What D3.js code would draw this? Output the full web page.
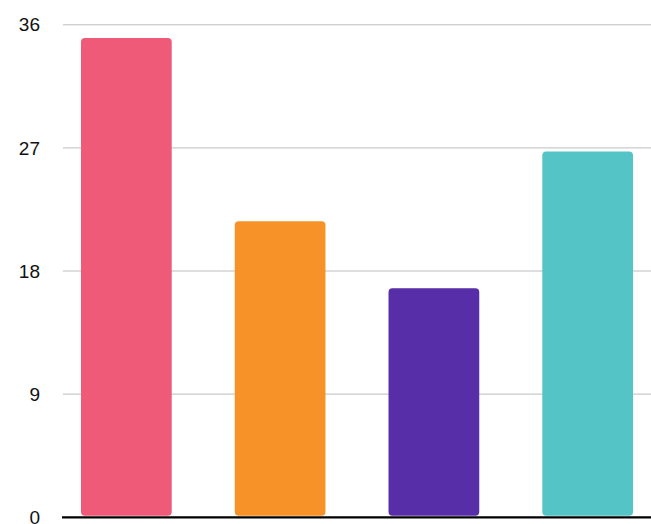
<!DOCTYPE html>
<html>
<head>
<meta charset="utf-8">
<script src="https://cdn.jsdelivr.net/npm/d3@7"></script>
<style>
  html, body { margin: 0; padding: 0; background: #fff; overflow: hidden; }
  svg { display: block; }
  .tick text { font-family: "Liberation Sans", Arial, Helvetica, sans-serif; font-size: 19px; fill: #111; }
</style>
</head>
<body>
<div id="chart"></div>
<script>
// Chart values
const categories = ["A", "B", "C", "D"];
const values = [35, 21.6, 16.7, 26.7];
const colors = ["#ee5a78", "#f69228", "#582da8", "#54c4c6"];
const yTicks = [0, 9, 18, 27, 36];

const width = 651, height = 524;
const margin = {top: 24, right: 0, bottom: 7, left: 63};

const svg = d3.select("#chart")
  .append("svg")
  .attr("width", width)
  .attr("height", height);

const x = d3.scaleBand()
  .domain(categories)
  .range([margin.left, width - margin.right])
  .paddingInner(0.41)
  .paddingOuter(0.117);

const y = d3.scaleLinear()
  .domain([0, 36])
  .range([height - margin.bottom - 0.3, margin.top + 0.3]);

// Gridlines + tick labels
const yAxis = svg.append("g")
  .attr("transform", `translate(${margin.left},0)`)
  .call(d3.axisLeft(y)
    .tickValues(yTicks)
    .tickSize(-(width - margin.left - margin.right))
    .tickPadding(23)
    .tickFormat(d3.format("d")));
yAxis.select(".domain").remove();
yAxis.selectAll(".tick line").attr("stroke", "#bdbdbd").attr("stroke-width", 1);
yAxis.selectAll(".tick text").attr("dy", "0.35em");
yAxis.selectAll(".tick").filter(d => d === 0).select("line").remove();

// Bars with rounded corners
svg.append("g")
  .selectAll("rect")
  .data(values)
  .join("rect")
  .attr("x", (d, i) => x(categories[i]))
  .attr("y", d => y(d))
  .attr("width", x.bandwidth())
  .attr("height", d => y(0) - y(d) - 1)
  .attr("rx", 4)
  .attr("ry", 4)
  .attr("fill", (d, i) => colors[i]);

// Baseline
svg.append("line")
  .attr("x1", margin.left - 1)
  .attr("x2", width)
  .attr("y1", y(0) + 0.7)
  .attr("y2", y(0) + 0.7)
  .attr("stroke", "#000")
  .attr("stroke-width", 2.4);
</script>
</body>
</html>
